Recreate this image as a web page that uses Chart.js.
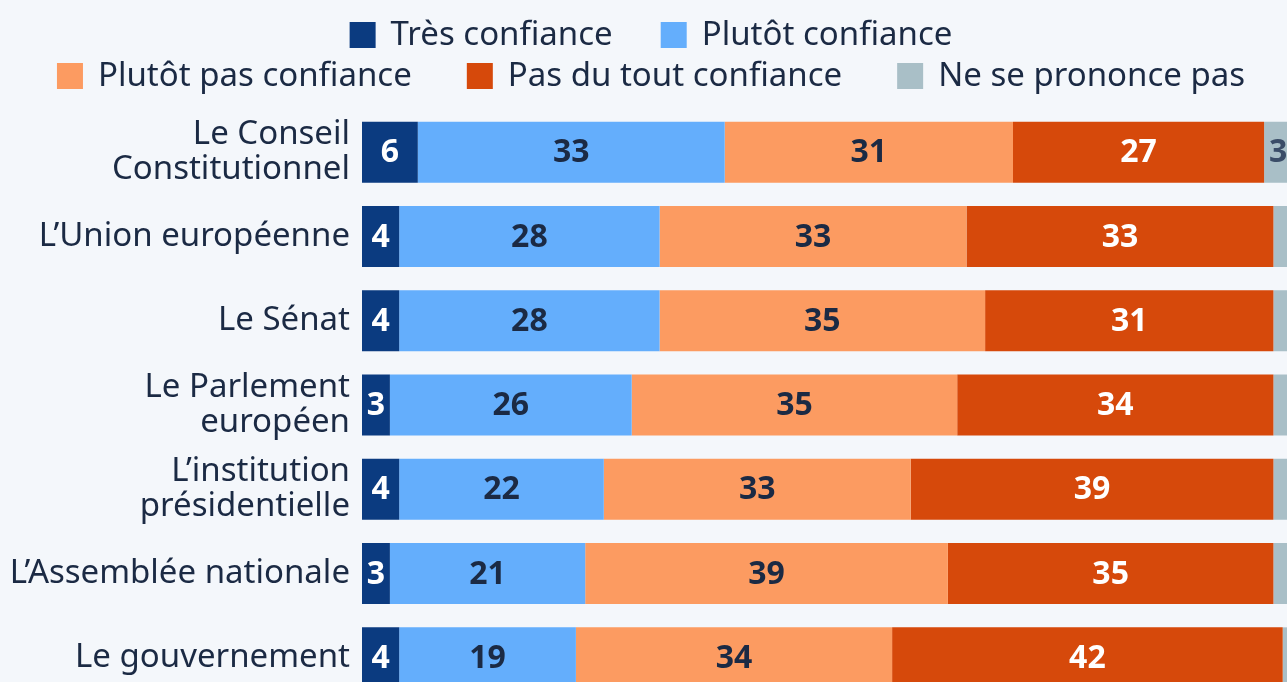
<!DOCTYPE html>
<html>
<head>
<meta charset="utf-8">
<script src="https://cdn.jsdelivr.net/npm/chart.js@4"></script>
<style>
  html, body { margin: 0; padding: 0; background: #f4f7fb; overflow: hidden; }
  canvas { display: block; }
</style>
</head>
<body>
<canvas id="myChart" width="1292" height="700"></canvas>
<script>

var categories = [
    ['Le Conseil', 'Constitutionnel'],
    'L\u2019Union européenne',
    'Le Sénat',
    ['Le Parlement', 'européen'],
    ['L\u2019institution', 'présidentielle'],
    'L\u2019Assemblée nationale',
    'Le gouvernement'
];

var seriesNames = ['Très confiance', 'Plutôt confiance', 'Plutôt pas confiance', 'Pas du tout confiance', 'Ne se prononce pas'];

var tresConfiance = [6, 4, 4, 3, 4, 3, 4];
var plutotConfiance = [33, 28, 28, 26, 22, 21, 19];
var plutotPasConfiance = [31, 33, 35, 35, 33, 39, 34];
var pasDuToutConfiance = [27, 33, 31, 34, 39, 35, 42];
var neSePrononcePas = [3, 2, 2, 2, 2, 2, 1];

var colors = ['#0b3b80', '#64aefc', '#fc9b61', '#d6490b', '#a9bfc7'];
var labelColors = ['#ffffff', '#1b2a44', '#1b2a44', '#ffffff', '#3b4d68'];
var textColor = '#1b2a44';
var fontFamily = '"Noto Sans", "Open Sans", sans-serif';

// legend rows like in the picture
var legendRows = [[0, 1], [2, 3, 4]];

var legendPlugin = {
    id: 'rowLegend',
    afterDraw: function(chart) {
        var ctx = chart.ctx;
        ctx.save();
        ctx.font = '33px ' + fontFamily;
        ctx.textBaseline = 'middle';
        ctx.textAlign = 'left';
        var box = 26, gapText = 15;
        var gapItem = [48, 55];
        var rowY = [35, 76];
        legendRows.forEach(function(row, r) {
            var total = 0;
            row.forEach(function(i, k) {
                total += box + gapText + ctx.measureText(seriesNames[i]).width;
                if (k > 0) total += gapItem[r];
            });
            var x = 651 - total / 2;
            row.forEach(function(i) {
                ctx.fillStyle = colors[i];
                ctx.fillRect(x, rowY[r] - box / 2, box, box);
                x += box + gapText;
                ctx.fillStyle = textColor;
                ctx.fillText(seriesNames[i], x, rowY[r] + 1);
                x += ctx.measureText(seriesNames[i]).width + gapItem[r];
            });
        });
        ctx.restore();
    }
};

var valueLabels = {
    id: 'valueLabels',
    afterDatasetsDraw: function(chart) {
        var ctx = chart.ctx;
        ctx.save();
        ctx.font = 'bold 32px ' + fontFamily;
        ctx.textAlign = 'center';
        ctx.textBaseline = 'middle';
        chart.data.datasets.forEach(function(ds, i) {
            chart.getDatasetMeta(i).data.forEach(function(bar, j) {
                var v = ds.data[j];
                if (v < 3) return;
                ctx.fillStyle = labelColors[i];
                ctx.fillText(v, (bar.x + bar.base) / 2, bar.y + 1);
            });
        });
        ctx.restore();
    }
};

var allSeries = [tresConfiance, plutotConfiance, plutotPasConfiance, pasDuToutConfiance, neSePrononcePas];
var datasets = [];
for (var i = 0; i < allSeries.length; i++) {
    datasets.push({
        label: seriesNames[i],
        data: allSeries[i],
        backgroundColor: colors[i],
        borderWidth: 0,
        barPercentage: 0.724,
        categoryPercentage: 1
    });
}

var ctx = document.getElementById('myChart').getContext('2d');
var chart = new Chart(ctx, {
    type: 'bar',
    data: {
        labels: categories,
        datasets: datasets
    },
    options: {
        indexAxis: 'y',
        responsive: false,
        maintainAspectRatio: false,
        animation: false,
        layout: { padding: { top: 110, right: 0, bottom: 0, left: 0 } },
        plugins: {
            legend: { display: false },
            tooltip: { enabled: false }
        },
        scales: {
            x: {
                stacked: true,
                min: 0,
                max: 100,
                display: false
            },
            y: {
                stacked: true,
                grid: { display: false },
                border: { display: false },
                ticks: {
                    color: textColor,
                    padding: 4,
                    font: { family: fontFamily, size: 33, lineHeight: 1.06 }
                },
                afterFit: function(scale) {
                    scale.width = 362;
                    // labels sit on bar centres, no extra room needed
                    scale.paddingTop = 0;
                    scale.paddingBottom = 0;
                }
            }
        }
    },
    plugins: [valueLabels, legendPlugin]
});
</script>
</body>
</html>
